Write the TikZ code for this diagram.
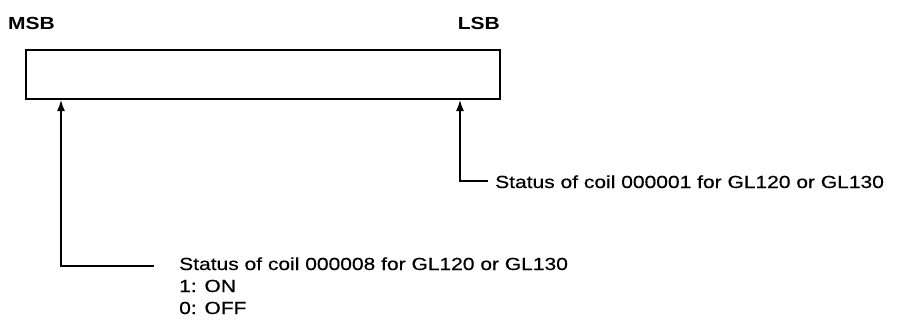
\documentclass[tikz,border=0pt]{standalone}
\usepackage{fontspec}
\setmainfont{Liberation Sans}[FakeStretch=1.2]
\newfontfamily\heavyfont{Liberation Sans}[FakeStretch=1.2,FakeBold=0.5]
\usetikzlibrary{arrows.meta}
\begin{document}
\begin{tikzpicture}[x=1pt,y=-1pt,
  lbl/.style={font=\heavyfont\fontsize{17.5}{22}\selectfont, inner sep=0pt, anchor=base west},
  hdr/.style={font=\bfseries\fontsize{17.5}{22}\selectfont, inner sep=0pt},
  conn/.style={line width=1.5pt, -{Latex[length=11pt,width=8pt]}}]
\useasboundingbox (0,0) rectangle (898,322);
\node[draw, line width=1.5pt, minimum width=474pt, minimum height=49pt, inner sep=0pt, anchor=north west] (reg) at (25,49) {};
\node[hdr, anchor=base west] (msb) at (8,29) {MSB};
\node[hdr, anchor=base east] (lsb) at (500,29) {LSB};
\coordinate (lsbtip) at (460,100);
\coordinate (msbtip) at (61,100);
\node[lbl] (t1) at (495,188) {Status of coil 000001 for GL120 or GL130};
\node[lbl] (t8) at (179,270) {Status of coil 000008 for GL120 or GL130};
\node[lbl] (t8on) at (179,292) {1: ON};
\node[lbl] (t8off) at (179,314) {0: OFF};
\coordinate (e1) at (488,181);
\coordinate (c1) at (460,181);
\coordinate (e8) at (154,266);
\coordinate (c8) at (61,266);
\draw[conn] (e1) -- (c1) -- (lsbtip);
\draw[conn] (e8) -- (c8) -- (msbtip);
\end{tikzpicture}
\end{document}
